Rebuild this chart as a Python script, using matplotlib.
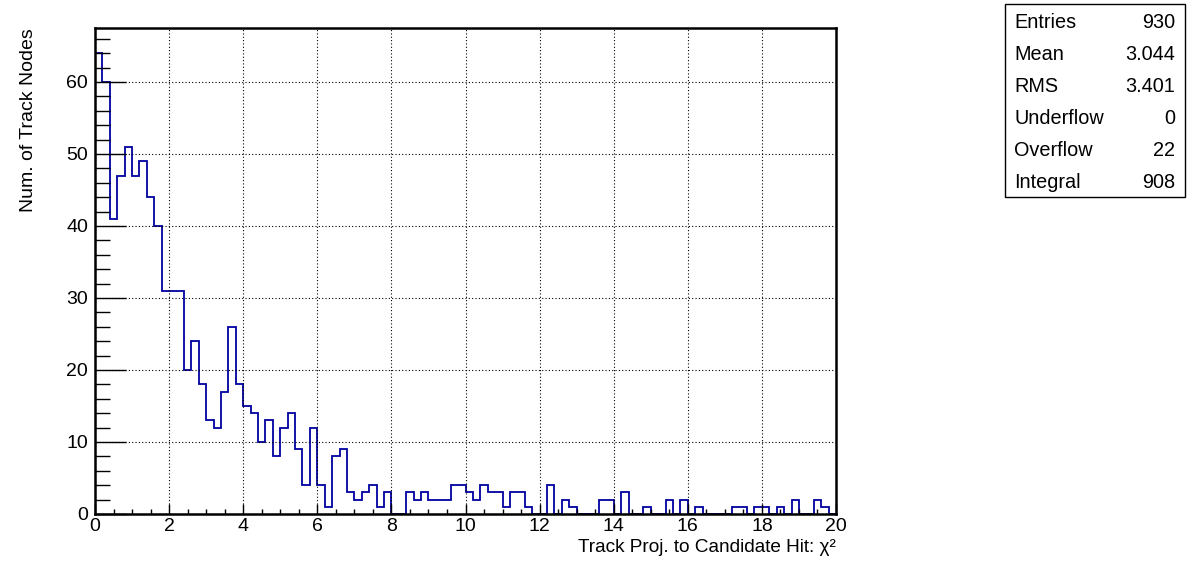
import numpy as np
import matplotlib
matplotlib.use("Agg")
import matplotlib.pyplot as plt
from matplotlib.patches import Rectangle
from matplotlib.ticker import MultipleLocator

plt.rcParams['font.family'] = ['Liberation Sans', 'DejaVu Sans']

# histogram: 100 bins from 0 to 20
x_min, x_max, n_bins = 0.0, 20.0, 100
counts = [
    64, 60, 41, 47, 51, 47, 49, 44, 40, 31,
    31, 31, 20, 24, 18, 13, 12, 17, 26, 18,
    15, 14, 10, 13, 8, 12, 14, 9, 4, 12,
    4, 1, 8, 9, 3, 2, 3, 4, 1, 3,
    0, 0, 3, 2, 3, 2, 2, 2, 4, 4,
    3, 2, 4, 3, 3, 1, 3, 3, 1, 0,
    0, 4, 0, 2, 1, 0, 0, 0, 2, 2,
    0, 3, 0, 0, 1, 0, 0, 2, 0, 2,
    0, 1, 0, 0, 0, 0, 1, 1, 0, 1,
    1, 0, 1, 0, 2, 0, 0, 2, 1, 0,
]
stat_names = ["Entries", "Mean", "RMS", "Underflow", "Overflow", "Integral"]
stat_values = ["930", "3.044", "3.401", "0", "22", "908"]
x_title = "Track Proj. to Candidate Hit: χ²"
y_title = "Num. of Track Nodes"

W, H = 1196, 572
fig = plt.figure(figsize=(W / 100, H / 100), dpi=100)
ax = fig.add_axes([95 / W, (H - 514) / H, 741 / W, 486 / H])

edges = np.linspace(x_min, x_max, n_bins + 1)
ax.stairs(counts, edges, color='#0000a0', linewidth=1.3, baseline=0)

ax.set_xlim(x_min, x_max)
ax.set_ylim(0, 67.5)
ax.xaxis.set_major_locator(MultipleLocator(2))
ax.xaxis.set_minor_locator(MultipleLocator(0.5))
ax.yaxis.set_major_locator(MultipleLocator(10))
ax.yaxis.set_minor_locator(MultipleLocator(2))

ax.grid(True, which='major', color='black', linestyle=(0, (1, 2)), linewidth=0.8)
ax.set_axisbelow(False)

ax.tick_params(axis='x', which='major', direction='in', length=7.2, width=1, labelsize=14, pad=3)
ax.tick_params(axis='x', which='minor', direction='in', length=3.6, width=1)
ax.tick_params(axis='y', which='major', direction='in', length=22, width=1, labelsize=14, pad=5)
ax.tick_params(axis='y', which='minor', direction='in', length=11, width=1)
ax.tick_params(top=False, right=False, which='both')
for s in ax.spines.values():
    s.set_linewidth(1.8)

fig.text(29 / W, (H - 28) / H, y_title, rotation=90, ha='center', va='top', fontsize=14)
fig.text(836 / W, (H - 547) / H, x_title, ha='right', va='center', fontsize=13.7)

# stats box
bx0, by0, bx1, by1 = 1005, 4, 1185, 197
fig.patches.append(Rectangle((bx0 / W, (H - by1) / H), (bx1 - bx0) / W, (by1 - by0) / H,
                             transform=fig.transFigure, fill=False, edgecolor='black', linewidth=1))
row_h = (by1 - by0) / len(stat_names)
for i, (n, v) in enumerate(zip(stat_names, stat_values)):
    yc = by0 + row_h * (i + 0.5) + 2
    fig.text(1014 / W, (H - yc) / H, n, ha='left', va='center', fontsize=14.3)
    fig.text(1175 / W, (H - yc) / H, v, ha='right', va='center', fontsize=14.3)

fig.savefig("out.png", dpi=100)
